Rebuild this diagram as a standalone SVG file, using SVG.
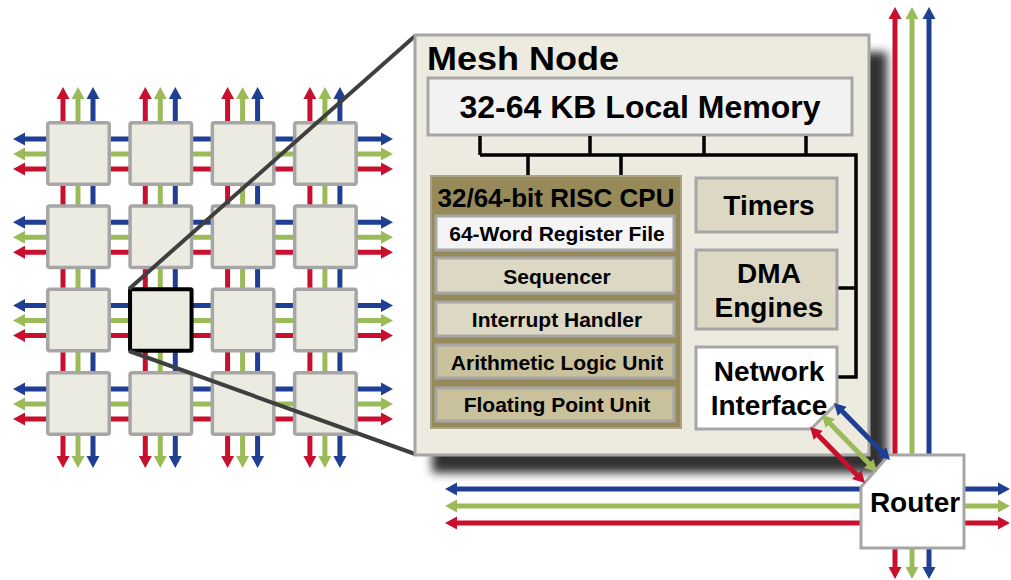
<svg xmlns="http://www.w3.org/2000/svg" width="1011" height="580" viewBox="0 0 1011 580">
  <style>
    .r { stroke: #c8102e; }
    .g { stroke: #9bbb59; }
    .b { stroke: #1f3f94; }
    .link { fill: none; stroke-width: 5; }
    .lr { marker-start: url(#hR); marker-end: url(#hR); }
    .lg { marker-start: url(#hG); marker-end: url(#hG); }
    .lb { marker-start: url(#hB); marker-end: url(#hB); }
    .tile { fill: #ecebe1; stroke: #a6a6a6; stroke-width: 3.5; }
    .box { stroke: #a6a6a6; stroke-width: 3; }
    .t { font-family: "Liberation Sans", Arial, sans-serif; font-weight: bold; fill: #000; }
    .mid { text-anchor: middle; }
    .bus { fill: none; stroke: #000; stroke-width: 3.5; }
  </style>
  <defs>
    <marker id="hR" viewBox="0 -7 12 14" refX="1" refY="0" markerWidth="12" markerHeight="14" markerUnits="userSpaceOnUse" orient="auto-start-reverse">
      <path d="M0,-6.5 L12,0 L0,6.5 Z" fill="#c8102e"/>
    </marker>
    <marker id="hG" viewBox="0 -7 12 14" refX="1" refY="0" markerWidth="12" markerHeight="14" markerUnits="userSpaceOnUse" orient="auto-start-reverse">
      <path d="M0,-6.5 L12,0 L0,6.5 Z" fill="#9bbb59"/>
    </marker>
    <marker id="hB" viewBox="0 -7 12 14" refX="1" refY="0" markerWidth="12" markerHeight="14" markerUnits="userSpaceOnUse" orient="auto-start-reverse">
      <path d="M0,-6.5 L12,0 L0,6.5 Z" fill="#1f3f94"/>
    </marker>
    <filter id="soft" x="-10%" y="-10%" width="120%" height="120%">
      <feGaussianBlur stdDeviation="5"/>
    </filter>
  </defs>

  <!-- mesh links: three channels per row and column -->
  <g id="connectors">
    <g id="mesh-columns">
      <path class="link r lr" d="M63,98 V457"/>
      <path class="link g lg" d="M78,98 V457"/>
      <path class="link b lb" d="M93,98 V457"/>
      <path class="link r lr" d="M145.3,98 V457"/>
      <path class="link g lg" d="M160.3,98 V457"/>
      <path class="link b lb" d="M175.3,98 V457"/>
      <path class="link r lr" d="M227.6,98 V457"/>
      <path class="link g lg" d="M242.6,98 V457"/>
      <path class="link b lb" d="M257.6,98 V457"/>
      <path class="link r lr" d="M309.9,98 V457"/>
      <path class="link g lg" d="M324.9,98 V457"/>
      <path class="link b lb" d="M339.9,98 V457"/>
    </g>
    <g id="mesh-rows">
      <path class="link b lb" d="M24,139 H382"/>
      <path class="link g lg" d="M24,154 H382"/>
      <path class="link r lr" d="M24,169 H382"/>
      <path class="link b lb" d="M24,222.3 H382"/>
      <path class="link g lg" d="M24,237.3 H382"/>
      <path class="link r lr" d="M24,252.3 H382"/>
      <path class="link b lb" d="M24,305.6 H382"/>
      <path class="link g lg" d="M24,320.6 H382"/>
      <path class="link r lr" d="M24,335.6 H382"/>
      <path class="link b lb" d="M24,389 H382"/>
      <path class="link g lg" d="M24,404 H382"/>
      <path class="link r lr" d="M24,419 H382"/>
    </g>
  </g>

  <!-- 4x4 mesh tiles -->
  <g id="mesh">
    <rect id="tile-0-0" class="tile" x="47.75" y="122.75" width="61.5" height="61.5" rx="2"/>
    <rect id="tile-0-1" class="tile" x="130.05" y="122.75" width="61.5" height="61.5" rx="2"/>
    <rect id="tile-0-2" class="tile" x="212.35" y="122.75" width="61.5" height="61.5" rx="2"/>
    <rect id="tile-0-3" class="tile" x="294.65" y="122.75" width="61.5" height="61.5" rx="2"/>
    <rect id="tile-1-0" class="tile" x="47.75" y="206.05" width="61.5" height="61.5" rx="2"/>
    <rect id="tile-1-1" class="tile" x="130.05" y="206.05" width="61.5" height="61.5" rx="2"/>
    <rect id="tile-1-2" class="tile" x="212.35" y="206.05" width="61.5" height="61.5" rx="2"/>
    <rect id="tile-1-3" class="tile" x="294.65" y="206.05" width="61.5" height="61.5" rx="2"/>
    <rect id="tile-2-0" class="tile" x="47.75" y="289.35" width="61.5" height="61.5" rx="2"/>
    <rect id="tile-2-1" class="tile" x="130.05" y="289.35" width="61.5" height="61.5" rx="1" style="stroke:#000;stroke-width:4"/>
    <rect id="tile-2-2" class="tile" x="212.35" y="289.35" width="61.5" height="61.5" rx="2"/>
    <rect id="tile-2-3" class="tile" x="294.65" y="289.35" width="61.5" height="61.5" rx="2"/>
    <rect id="tile-3-0" class="tile" x="47.75" y="372.75" width="61.5" height="61.5" rx="2"/>
    <rect id="tile-3-1" class="tile" x="130.05" y="372.75" width="61.5" height="61.5" rx="2"/>
    <rect id="tile-3-2" class="tile" x="212.35" y="372.75" width="61.5" height="61.5" rx="2"/>
    <rect id="tile-3-3" class="tile" x="294.65" y="372.75" width="61.5" height="61.5" rx="2"/>
  </g>

  <!-- callout lines from the selected tile to the enlarged view -->
  <g id="callout" stroke="#3f3f3f" stroke-width="4" fill="none">
    <line x1="129" y1="289" x2="415" y2="36"/>
    <line x1="129" y1="351" x2="415" y2="454"/>
  </g>

  <!-- enlarged mesh node -->
  <g id="mesh-node">
    <rect x="432" y="52" width="455" height="421" fill="#333" filter="url(#soft)"/>
    <rect x="415" y="35" width="454" height="420" fill="#edeae0" class="box"/>
    <text class="t" x="427" y="70" font-size="33" textLength="192" lengthAdjust="spacingAndGlyphs">Mesh Node</text>
  </g>

  <g id="local-memory">
    <rect x="428" y="78" width="424" height="57" fill="#f2f2f2" class="box"/>
    <text class="t mid" x="640" y="118" font-size="32">32-64 KB Local Memory</text>
  </g>

  <g id="bus">
    <path class="bus" d="M480,136 V155 M590,136 V155 M704,136 V155 M806,136 V155 M528,155 V176 M621,155 V176 M856,288 H838"/>
    <path class="bus" d="M480,155 H856 V377 H838"/>
  </g>

  <g id="cpu">
    <rect x="431" y="176" width="250" height="252" fill="#968a5a" stroke="#aaa282" stroke-width="2"/>
    <text class="t mid" x="556" y="207" font-size="26">32/64-bit RISC CPU</text>
  </g>
  <g id="register-file">
    <rect x="436" y="216" width="238" height="34" fill="#f4f4f4" class="box"/>
    <text class="t mid" x="557" y="241" font-size="21">64-Word Register File</text>
  </g>
  <g id="sequencer">
    <rect x="436" y="258" width="238" height="35" fill="#ddd8c3" class="box"/>
    <text class="t mid" x="557" y="284" font-size="21">Sequencer</text>
  </g>
  <g id="interrupt-handler">
    <rect x="436" y="302" width="238" height="34" fill="#ddd8c3" class="box"/>
    <text class="t mid" x="557" y="327" font-size="21">Interrupt Handler</text>
  </g>
  <g id="alu">
    <rect x="436" y="345" width="238" height="33" fill="#c9c09c" class="box"/>
    <text class="t mid" x="557" y="370" font-size="21">Arithmetic Logic Unit</text>
  </g>
  <g id="fpu">
    <rect x="436" y="388" width="238" height="33" fill="#c9c09c" class="box"/>
    <text class="t mid" x="557" y="412" font-size="21">Floating Point Unit</text>
  </g>

  <g id="timers">
    <rect x="696" y="178" width="141" height="54" fill="#ddd8c3" class="box"/>
    <text class="t mid" x="769" y="215" font-size="28">Timers</text>
  </g>
  <g id="dma">
    <rect x="696" y="250" width="141" height="79" fill="#ddd8c3" class="box"/>
    <text class="t mid" x="769" y="283" font-size="28">DMA</text>
    <text class="t mid" x="769" y="317" font-size="28">Engines</text>
  </g>
  <g id="network-interface">
    <polygon points="696,347 837,347 837,403 811,429 696,429" fill="#fff" class="box"/>
    <text class="t mid" x="769" y="381" font-size="28">Network</text>
    <text class="t mid" x="769" y="415" font-size="28">Interface</text>
  </g>

  <!-- router channels -->
  <g id="router-links">
    <path class="link r lr" d="M895,18 V568"/>
    <path class="link g lg" d="M912,18 V568"/>
    <path class="link b lb" d="M929,18 V568"/>
    <path class="link b lb" d="M456,489 H999"/>
    <path class="link g lg" d="M456,506 H999"/>
    <path class="link r lr" d="M456,523 H999"/>
  </g>

  <g id="router">
    <polygon points="889,455 964,455 964,548 861,548 861,487" fill="#fff" class="box"/>
    <text class="t mid" x="915" y="512" font-size="28">Router</text>
  </g>

  <!-- network interface to router links -->
  <g id="ni-router-links">
    <path class="link b lb" d="M841.7,410.8 L882.3,452.2"/>
    <path class="link g lg" d="M829.6,422.9 L869.4,464.1"/>
    <path class="link r lr" d="M817.7,434.8 L857.3,475.2"/>
  </g>
</svg>
